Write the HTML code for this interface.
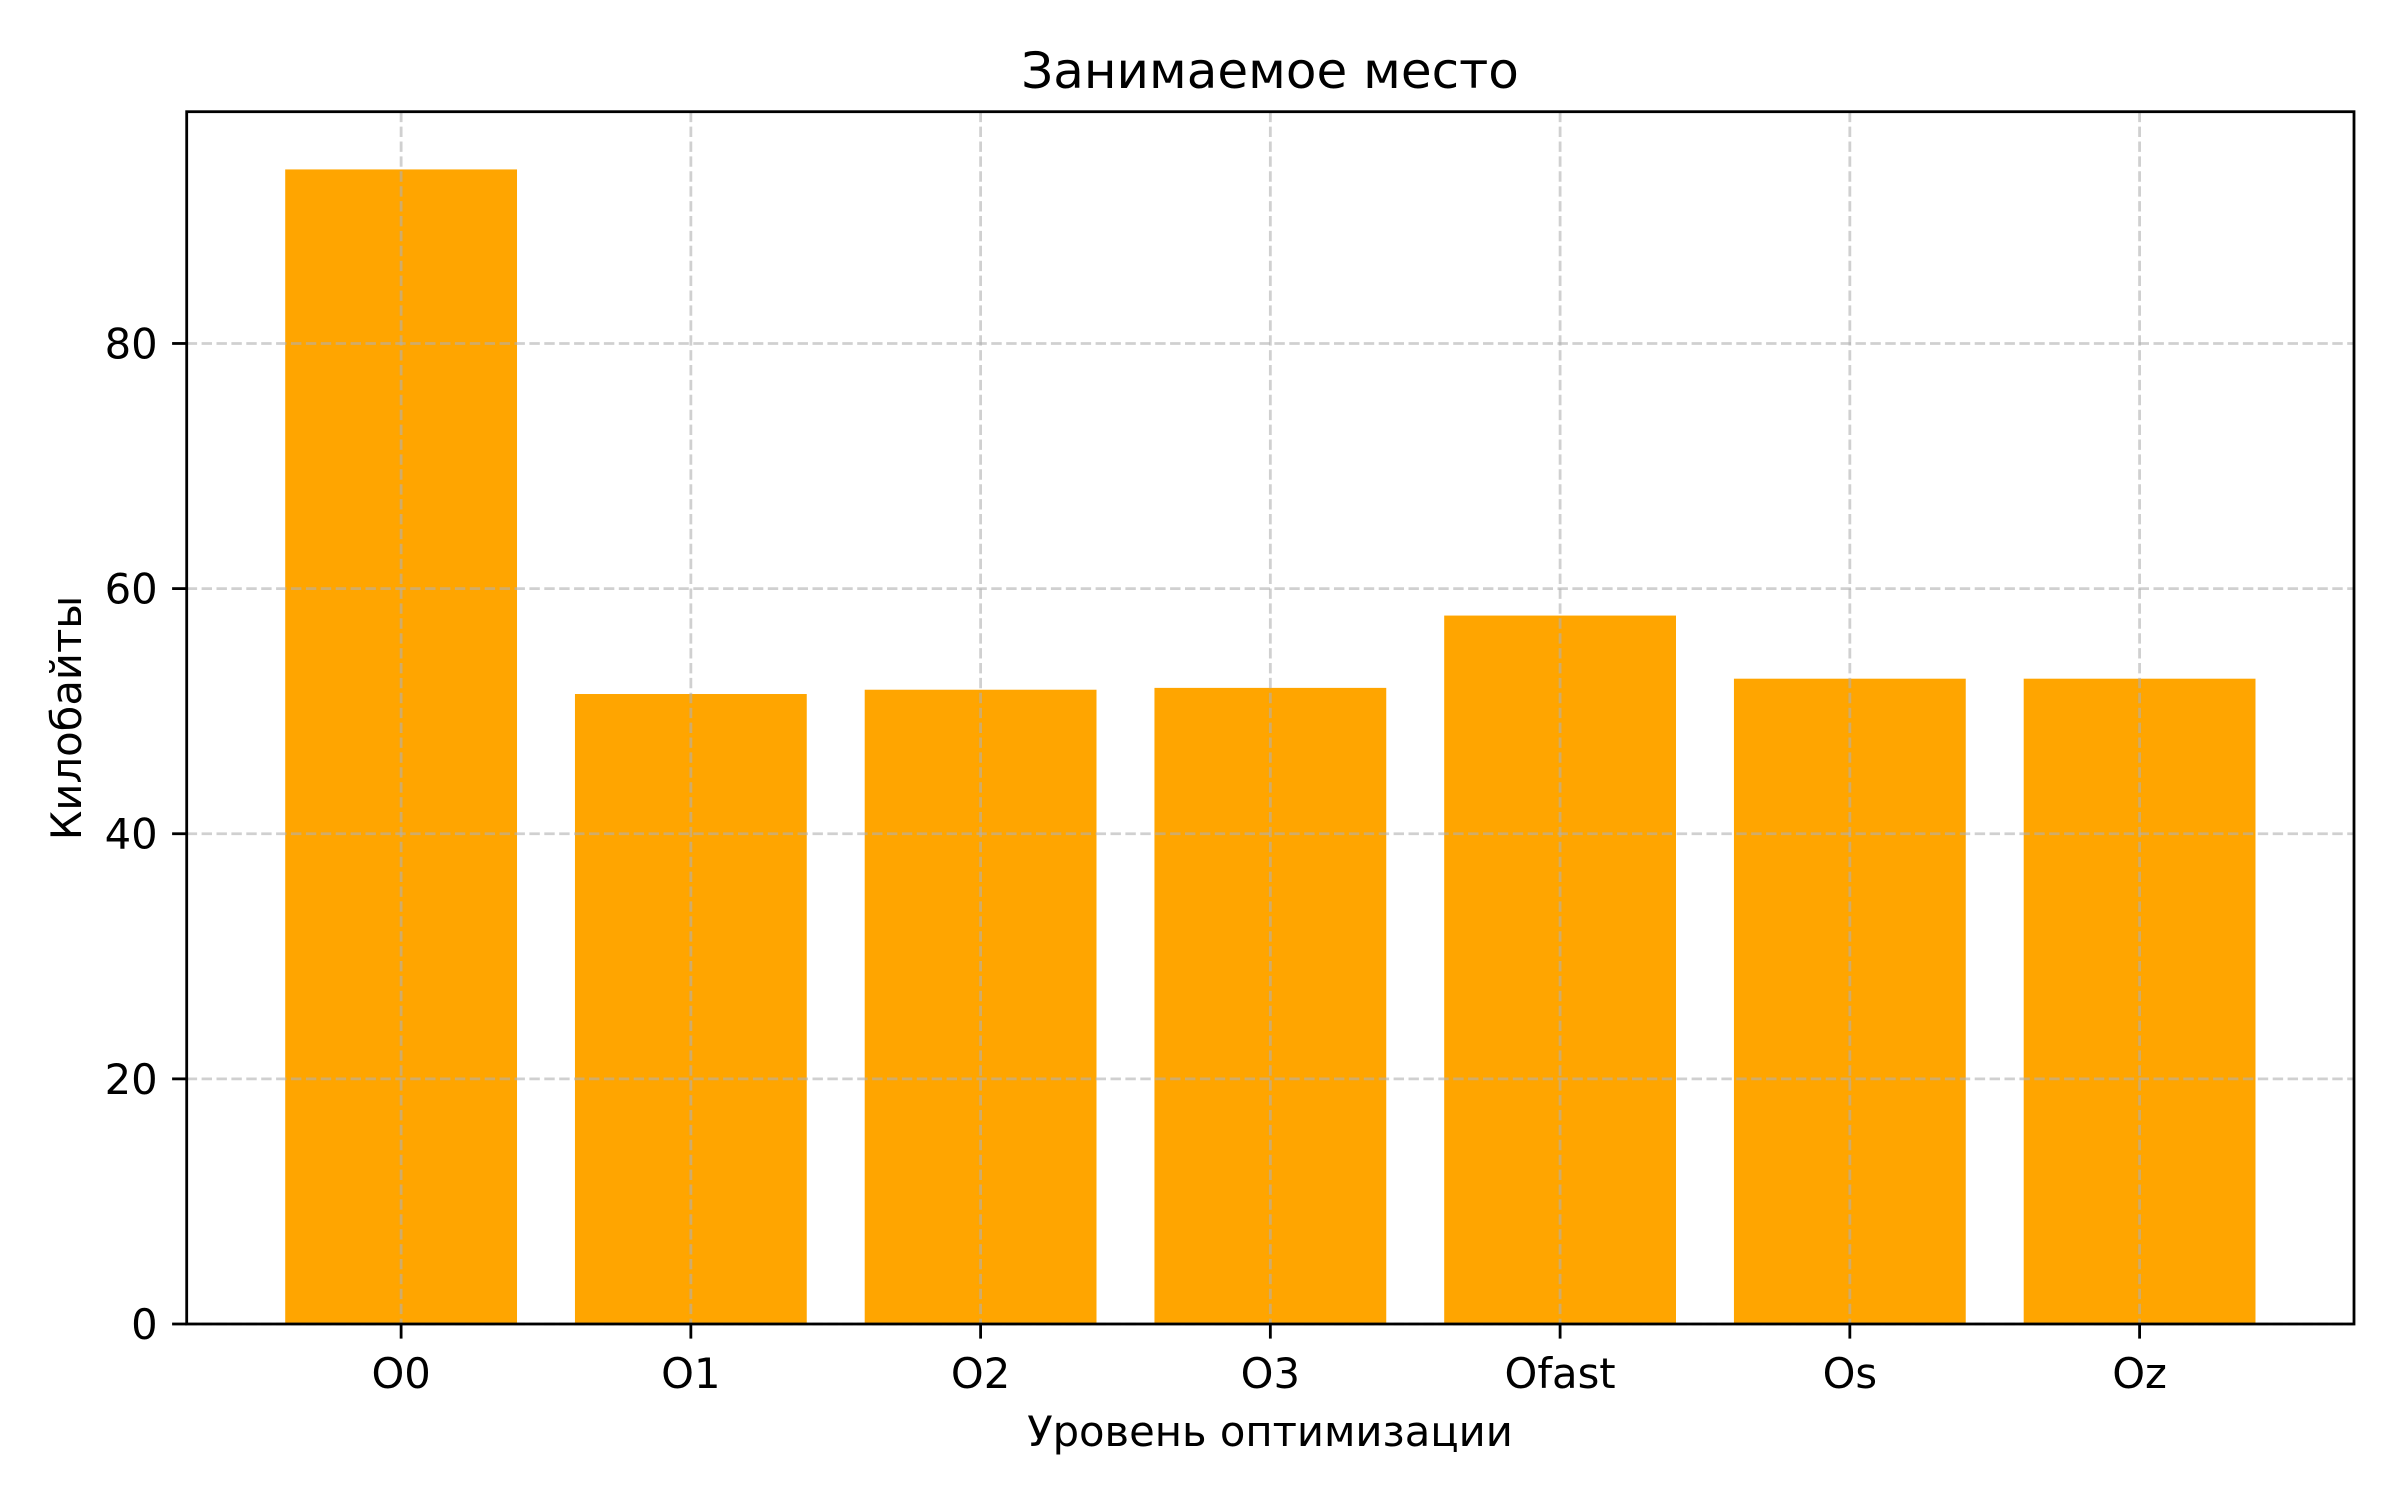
<!DOCTYPE html>
<html><head><meta charset="utf-8"><style>
html,body{margin:0;padding:0;background:#fff;}
svg{display:block;font-family:"DejaVu Sans","Liberation Sans",sans-serif;}
</style></head><body>
<svg id="chart" width="2400" height="1500" viewBox="0 0 2400 1500" xmlns="http://www.w3.org/2000/svg">
<rect x="0" y="0" width="2400" height="1500" fill="#fff"/>
<g id="bars"></g><g id="grid"></g><g id="ticks"></g>
<rect x="186.7" y="111.7" width="2167.3" height="1212.3" fill="none" stroke="#000" stroke-width="2.8"/>
<text x="1270" y="88" font-size="50" text-anchor="middle">Занимаемое место</text>
<text x="1270" y="1446" font-size="41.7" text-anchor="middle">Уровень оптимизации</text>
<text x="0" y="0" font-size="41.7" text-anchor="middle" transform="translate(81,718) rotate(-90)">Килобайты</text>
</svg>
<script>
const categories = ["O0","O1","O2","O3","Ofast","Os","Oz"];
const values = [94.2, 51.4, 51.75, 51.9, 57.8, 52.65, 52.65];
const yTicks = [0, 20, 40, 60, 80];
const yTickLabels = ["0","20","40","60","80"];

const L=186.7,R=2354,T=111.7,B=1324;
const xmin=-0.74,xmax=categories.length-1+0.74;
const ymax=Math.max(...values)*1.05;
const xs=i=>L+(i-xmin)/(xmax-xmin)*(R-L);
const ys=v=>B-v/ymax*(B-T);
const NS="http://www.w3.org/2000/svg";
function mk(tag,attrs,parent){const e=document.createElementNS(NS,tag);for(const k in attrs)e.setAttribute(k,attrs[k]);parent.appendChild(e);return e;}
const gb=document.getElementById('bars'),gg=document.getElementById('grid'),gt=document.getElementById('ticks');
const bw=(xs(1)-xs(0))*0.8;
categories.forEach((c,i)=>{
  const r=mk('rect',{x:xs(i)-bw/2,y:ys(values[i]),width:bw,height:B-ys(values[i]),fill:'#ffa500'},gb);
  
  
  const g=mk('line',{x1:xs(i),x2:xs(i),y1:T,y2:B,stroke:'#b0b0b0','stroke-opacity':0.6,'stroke-width':2.8,'stroke-dasharray':'10.4,4.5'},gg);
  
  
  const t=mk('line',{x1:xs(i),x2:xs(i),y1:B,y2:B+14.6,stroke:'#000','stroke-width':2.8},gt);
  
  
  const lb=mk('text',{x:xs(i),y:B+64,'font-size':41.7,'text-anchor':'middle'},gt);
  lb.textContent=c;
  
  
});
yTicks.forEach((v,i)=>{
  const y=ys(v);
  const g=mk('line',{x1:L,x2:R,y1:y,y2:y,stroke:'#b0b0b0','stroke-opacity':0.6,'stroke-width':2.8,'stroke-dasharray':'10.4,4.5'},gg);
  
  
  const t=mk('line',{x1:L-14.6,x2:L,y1:y,y2:y,stroke:'#000','stroke-width':2.8},gt);
  
  
  const lb=mk('text',{x:L-29,y:y+15,'font-size':41.7,'text-anchor':'end'},gt);
  lb.textContent=yTickLabels[i];
  
  
});
</script>
</body></html>
